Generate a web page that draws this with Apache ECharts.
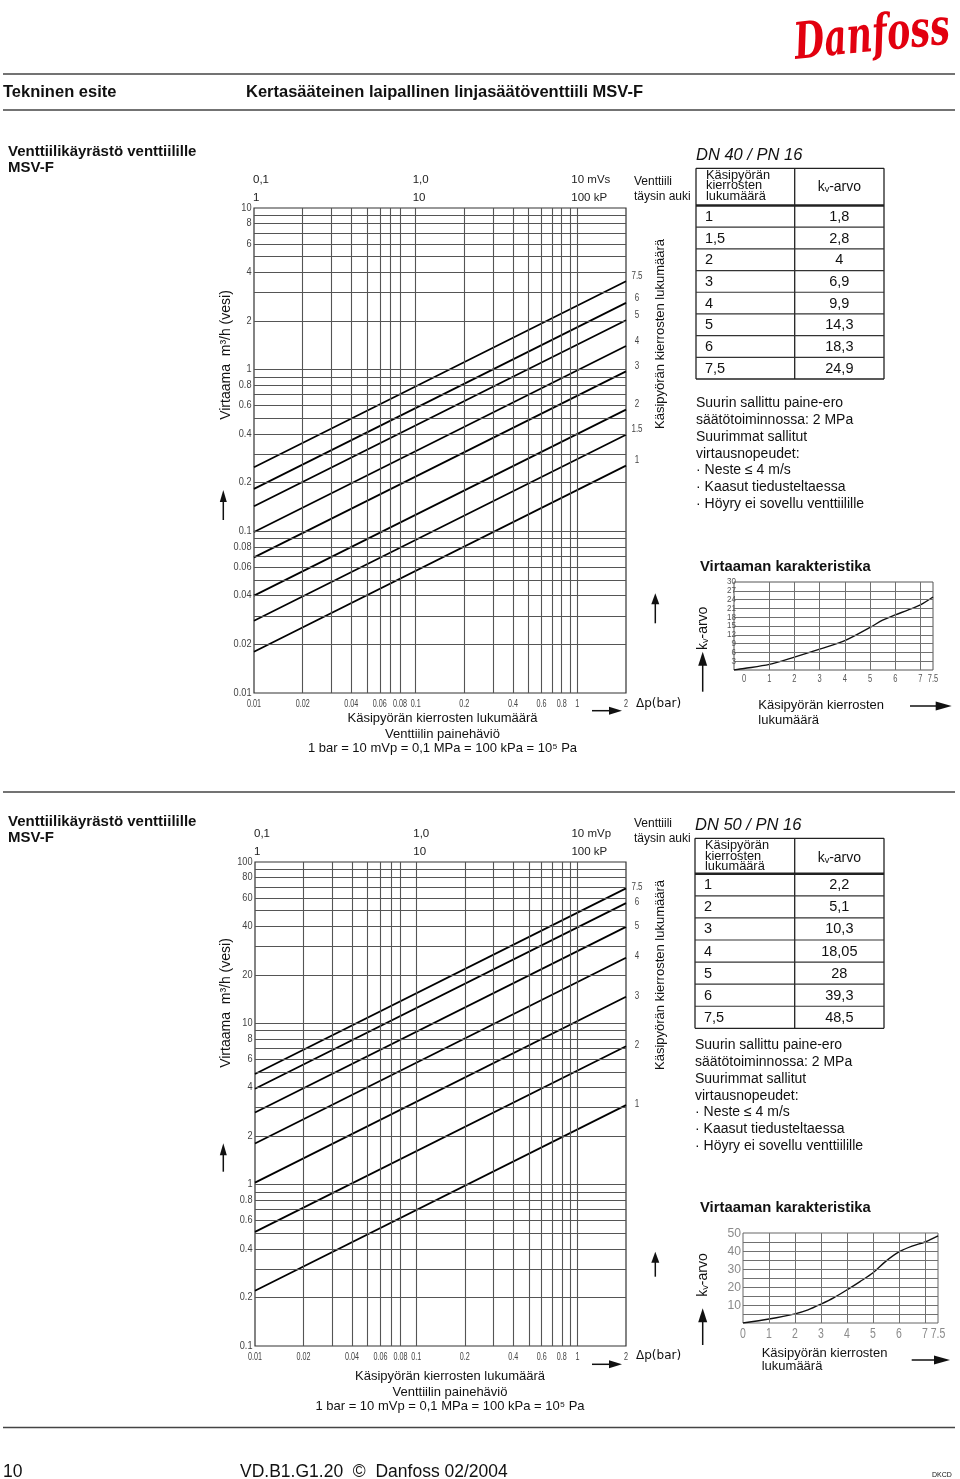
<!DOCTYPE html>
<html lang="fi">
<head>
<meta charset="utf-8">
<title>MSV-F venttiilikäyrästö</title>
<script src="https://cdn.jsdelivr.net/npm/echarts@6.0.0/dist/echarts.min.js"></script>
<style>
html,body{margin:0;padding:0;background:#fff;}
#chart{width:960px;height:1479px;}
</style>
</head>
<body>
<div id="chart"></div>
<script>
// ================= DATA =================
// pressure-drop axis (bar), shared by both main charts
const dpRange = [0.01, 2];
const dpTicks = [0.01, 0.02, 0.04, 0.06, 0.08, 0.1, 0.2, 0.4, 0.6, 0.8, 1, 2];
const dpTickLabels = ['0.01','0.02','0.04','0.06','0.08','0.1','0.2','0.4','0.6','0.8','1','2'];
const dpGridLines = [0.02,0.03,0.04,0.05,0.06,0.07,0.08,0.1,0.2,0.3,0.4,0.5,0.6,0.7,0.8,0.9,1];
const topTicks = [0.01, 0.1, 1];
const topLabelsM40 = ['0,1', '1,0', '10 mVs'];
const topLabelsM50 = ['0,1', '1,0', '10 mVp'];
const topLabelsK = ['1', '10', '100 kP'];

// DN 40 main chart
const flowRange40 = [0.01, 10];
const flowTicks40 = [10,8,6,4,2,1,0.8,0.6,0.4,0.2,0.1,0.08,0.06,0.04,0.02,0.01];
const flowTickLabels40 = ['10','8','6','4','2','1','0.8','0.6','0.4','0.2','0.1','0.08','0.06','0.04','0.02','0.01'];
const flowGridLines40 = [0.02,0.03,0.04,0.05,0.06,0.07,0.08,0.09,0.1,0.2,0.3,0.4,0.5,0.6,0.7,0.8,0.9,1,2,3,4,5,6,7,8,9];
const turnLabels40 = ['1','1.5','2','3','4','5','6','7.5'];
const flowAtDpMin40 = [0.018,0.028,0.040,0.069,0.099,0.143,0.183,0.249];
const flowAtDpMax40 = [0.255,0.396,0.566,0.976,1.40,2.02,2.59,3.52];
// DN 40 table
const tableTurns40 = ['1','1,5','2','3','4','5','6','7,5'];
const tableKv40 = ['1,8','2,8','4','6,9','9,9','14,3','18,3','24,9'];
// DN 40 flow characteristic
const charRangeX40 = [-0.4, 7.5];
const charRangeY40 = [0, 30];
const charTurns40 = [-0.4, 0, 1, 2, 3, 4, 5, 5.5, 6, 6.5, 7, 7.5];
const charKv40 = [0, 0.5, 1.9, 4.4, 7.1, 10, 14.5, 17, 18.8, 20.4, 22.2, 24.9];
const charYTicks40 = [30,27,24,21,18,15,12,9,6,3];
const charYTickLabels40 = ['30','27','24','21','18','15','12','9','6','3'];
const charYGridLines40 = [3,6,9,12,15,18,21,24,27];

// shared characteristic x ticks
const charXTicks = [0,1,2,3,4,5,6,7,7.5];
const charXTickLabels = ['0','1','2','3','4','5','6','7','7.5'];
const charXGridLines = [1,2,3,4,5,6,7];

// DN 50 main chart
const flowRange50 = [0.1, 100];
const flowTicks50 = [100,80,60,40,20,10,8,6,4,2,1,0.8,0.6,0.4,0.2,0.1];
const flowTickLabels50 = ['100','80','60','40','20','10','8','6','4','2','1','0.8','0.6','0.4','0.2','0.1'];
const flowGridLines50 = [0.2,0.3,0.4,0.5,0.6,0.7,0.8,0.9,1,2,3,4,5,6,7,8,9,10,20,30,40,50,60,70,80,90];
const turnLabels50 = ['1','2','3','4','5','6','7.5'];
const flowAtDpMin50 = [0.22,0.51,1.03,1.80,2.80,3.93,4.85];
const flowAtDpMax50 = [3.11,7.21,14.6,25.5,39.6,55.6,68.6];
// DN 50 table
const tableTurns50 = ['1','2','3','4','5','6','7,5'];
const tableKv50 = ['2,2','5,1','10,3','18,05','28','39,3','48,5'];
// DN 50 flow characteristic
const charRangeX50 = [0, 7.5];
const charRangeY50 = [0, 50];
const charTurns50 = [0, 1, 2, 2.5, 3, 3.5, 4, 4.5, 5, 5.5, 6, 6.5, 7, 7.5];
const charKv50 = [0, 2.2, 5.1, 7.3, 10.5, 14.1, 18.4, 23, 27.9, 34.4, 39.5, 42.7, 45, 48.4];
const charYTicks50 = [50,40,30,20,10];
const charYTickLabels50 = ['50','40','30','20','10'];
const charYGridLines50 = [5,10,15,20,25,30,35,40,45];

const notes = ['Suurin sallittu paine-ero','säätötoiminnossa: 2 MPa','Suurimmat sallitut','virtausnopeudet:','· Neste ≤ 4 m/s','· Kaasut tiedusteltaessa','· Höyry ei sovellu venttiilille'];

// ================= CHART =================
const SANS = "'Liberation Sans', Arial, Helvetica, 'DejaVu Sans', sans-serif";
const chart = echarts.init(document.getElementById('chart'), null, {renderer: 'canvas', width: 960, height: 1479});

const hidden = {axisLine: {show: false}, axisTick: {show: false}, axisLabel: {show: false}, splitLine: {show: false}};
const gridBase = {show: true, backgroundColor: 'transparent', containLabel: false, outerBoundsMode: 'none'};
const grids = [
  Object.assign({}, gridBase, {left: 254, top: 208, width: 372, height: 485, borderColor: '#333', borderWidth: 1.2}),
  Object.assign({}, gridBase, {left: 255, top: 862, width: 371, height: 484, borderColor: '#333', borderWidth: 1.2}),
  Object.assign({}, gridBase, {left: 734, top: 582, width: 199, height: 88, borderColor: '#555', borderWidth: 1}),
  Object.assign({}, gridBase, {left: 743, top: 1233, width: 195, height: 90, borderColor: '#666', borderWidth: 1})
];
const xAxes = [
  Object.assign({gridIndex: 0, type: 'log', logBase: 10, min: dpRange[0], max: dpRange[1]}, hidden),
  Object.assign({gridIndex: 1, type: 'log', logBase: 10, min: dpRange[0], max: dpRange[1]}, hidden),
  Object.assign({gridIndex: 2, type: 'value', min: charRangeX40[0], max: charRangeX40[1]}, hidden),
  Object.assign({gridIndex: 3, type: 'value', min: charRangeX50[0], max: charRangeX50[1]}, hidden)
];
const yAxes = [
  Object.assign({gridIndex: 0, type: 'log', logBase: 10, min: flowRange40[0], max: flowRange40[1]}, hidden),
  Object.assign({gridIndex: 1, type: 'log', logBase: 10, min: flowRange50[0], max: flowRange50[1]}, hidden),
  Object.assign({gridIndex: 2, type: 'value', min: charRangeY40[0], max: charRangeY40[1]}, hidden),
  Object.assign({gridIndex: 3, type: 'value', min: charRangeY50[0], max: charRangeY50[1]}, hidden)
];

function gridSeries(idx, xs, ys, color, w) {
  return {
    type: 'line', xAxisIndex: idx, yAxisIndex: idx, data: [], silent: true, z: 1, animation: false,
    markLine: {
      silent: true, animation: false, symbol: ['none', 'none'], label: {show: false},
      emphasis: {disabled: true},
      lineStyle: {color: color, width: w, type: 'solid', opacity: 1},
      data: xs.map(v => ({xAxis: v})).concat(ys.map(v => ({yAxis: v})))
    }
  };
}

const series = [];
series.push(gridSeries(0, dpGridLines, flowGridLines40, '#555', 1.1));
series.push(gridSeries(1, dpGridLines, flowGridLines50, '#555', 1.1));
series.push(gridSeries(2, charXGridLines, charYGridLines40, '#707070', 1));
series.push(gridSeries(3, charXGridLines, charYGridLines50, '#707070', 1));

turnLabels40.forEach((t, i) => series.push({
  type: 'line', name: 'DN40 ' + t, xAxisIndex: 0, yAxisIndex: 0, z: 3, silent: true, animation: false,
  symbol: 'none', showSymbol: false, lineStyle: {color: '#000', width: 1.8},
  data: [[dpRange[0], flowAtDpMin40[i]], [dpRange[1], flowAtDpMax40[i]]]
}));
turnLabels50.forEach((t, i) => series.push({
  type: 'line', name: 'DN50 ' + t, xAxisIndex: 1, yAxisIndex: 1, z: 3, silent: true, animation: false,
  symbol: 'none', showSymbol: false, lineStyle: {color: '#000', width: 1.8},
  data: [[dpRange[0], flowAtDpMin50[i]], [dpRange[1], flowAtDpMax50[i]]]
}));
series.push({
  type: 'line', name: 'kv DN40', xAxisIndex: 2, yAxisIndex: 2, z: 3, silent: true, animation: false,
  symbol: 'none', showSymbol: false, smooth: 0.3, lineStyle: {color: '#111', width: 1.4},
  data: charTurns40.map((x, i) => [x, charKv40[i]])
});
series.push({
  type: 'line', name: 'kv DN50', xAxisIndex: 3, yAxisIndex: 3, z: 3, silent: true, animation: false,
  symbol: 'none', showSymbol: false, smooth: 0.3, lineStyle: {color: '#111', width: 1.4},
  data: charTurns50.map((x, i) => [x, charKv50[i]])
});

chart.setOption({
  backgroundColor: '#fff',
  animation: false,
  grid: grids, xAxis: xAxes, yAxis: yAxes, series: series
});

// ================= TEXT & DECORATION =================
function T(x, y, text, o) {
  o = o || {};
  const align = o.align || 'left';
  return {
    type: 'text', x: x, y: y, rotation: o.rot || 0, scaleX: o.sx || 1, scaleY: o.sy || 1, silent: true, z: 10,
    style: {
      text: text, fill: o.fill || '#111', fontSize: o.size || 13, fontFamily: o.family || SANS,
      fontWeight: o.weight || 'normal', fontStyle: o.style || 'normal',
      textAlign: align, align: align, textVerticalAlign: 'middle', verticalAlign: 'middle'
    }
  };
}
function L(x1, y1, x2, y2, w, c) {
  return {type: 'line', silent: true, z: 10, shape: {x1: x1, y1: y1, x2: x2, y2: y2}, style: {stroke: c || '#111', lineWidth: w || 1}};
}
function arrowUp(x, top, bottom, w, h, lw) {
  return [L(x, top + h - 1, x, bottom, lw || 1.5),
    {type: 'polygon', silent: true, z: 10, shape: {points: [[x, top], [x - w / 2, top + h], [x + w / 2, top + h]]}, style: {fill: '#111'}}];
}
function arrowRight(x1, x2, y, w, h, lw) {
  return [L(x1, y, x2 - w + 1, y, lw || 1.5),
    {type: 'polygon', silent: true, z: 10, shape: {points: [[x2, y], [x2 - w, y - h / 2], [x2 - w, y + h / 2]]}, style: {fill: '#111'}}];
}
const px = (idx, x, y) => chart.convertToPixel({xAxisIndex: idx, yAxisIndex: idx}, [x, y]);

const G = [];
// header
G.push(T(872, 38, 'Danfoss', {size: 46, sx: 0.76, sy: 1.1, family: "'DejaVu Serif', serif", weight: 'bold', style: 'italic', fill: '#E2000F', align: 'center', rot: 0.1}));
G.push(L(3, 74, 955, 74, 1.5, '#444'), L(3, 110, 955, 110, 1.5, '#444'));
G.push(T(3, 92, 'Tekninen esite', {size: 16.5, weight: 'bold'}));
G.push(T(246, 92, 'Kertasääteinen laipallinen linjasäätöventtiili MSV-F', {size: 16.5, weight: 'bold'}));
G.push(L(3, 792, 955, 792, 1.5, '#444'));
// footer
G.push(L(3, 1427.5, 955, 1427.5, 1.5, '#444'));
G.push(T(3, 1472, '10', {size: 17.5}));
G.push(T(240, 1472, 'VD.B1.G1.20  ©  Danfoss 02/2004', {size: 17.5}));
G.push(T(932, 1475, 'DKCD', {size: 7}));

const S = [
  {idx: 0, cidx: 2, title: 'DN 40 / PN 16', topM: topLabelsM40, flowTicks: flowTicks40, flowTickLabels: flowTickLabels40,
   flowRange: flowRange40, turns: turnLabels40, qEnd: flowAtDpMax40, endDy: -5,
   tTurns: tableTurns40, tKv: tableKv40,
   cYTicks: charYTicks40, cYLabels: charYTickLabels40, cRangeX: charRangeX40, cRangeY: charRangeY40,
   titleY: [152, 168], ventY: [182, 197], tableTitleY: 155,
   table: {x0: 696, xm: 794.7, x1: 884, top: 168.3, head: 205.5, bottom: 379}, hdrY: [175, 185.7, 196.5], kvHdrY: 187,
   notesX: 696, notesY0: 403.3,
   yTitleY: 355, upArrow: [490, 520], turnTitleY: 334, upArrow2: [593.3, 623.3],
   bottomX: 442.5, bottomY: [718.3, 734.3, 748.5], rArrowY: 710.7, dpY: 703.5,
   charTitleY: 566.7, kvTitleY: 628.3, kvArrow: [651.7, 691.7], charBottom: [758.3, 705, 720], charArrow: [910, 951.7, 706],
   cxDy: 9.5, cxSize: 10, cxSx: 0.75, cxFill: '#555', cySize: 8.5, cySx: 0.95, cyFill: '#555', cyDx: 2},
  {idx: 1, cidx: 3, title: 'DN 50 / PN 16', topM: topLabelsM50, flowTicks: flowTicks50, flowTickLabels: flowTickLabels50,
   flowRange: flowRange50, turns: turnLabels50, qEnd: flowAtDpMax50, endDy: -1,
   tTurns: tableTurns50, tKv: tableKv50,
   cYTicks: charYTicks50, cYLabels: charYTickLabels50, cRangeX: charRangeX50, cRangeY: charRangeY50,
   titleY: [822, 838], ventY: [824, 839], tableTitleY: 825,
   table: {x0: 695, xm: 794.7, x1: 884, top: 838.3, head: 873.8, bottom: 1028.3}, hdrY: [845, 856.2, 866.7], kvHdrY: 858,
   notesX: 695, notesY0: 1045.3,
   yTitleY: 1003, upArrow: [1143.3, 1171.7], turnTitleY: 975, upArrow2: [1251.7, 1276.7],
   bottomX: 450, bottomY: [1376.7, 1392.7, 1406.3], rArrowY: 1364.3, dpY: 1355.5,
   charTitleY: 1208.3, kvTitleY: 1275, kvArrow: [1308.3, 1345], charBottom: [761.7, 1353.3, 1366.7], charArrow: [911.7, 950, 1360],
   cxDy: 11, cxSize: 15, cxSx: 0.7, cxFill: '#8a8a8a', cySize: 13.5, cySx: 0.9, cyFill: '#8a8a8a', cyDx: -2}
];

S.forEach(s => {
  const i0 = s.idx, ci = s.cidx;
  // section title
  G.push(T(8, s.titleY[0], 'Venttiilikäyrästö venttiilille', {size: 15, weight: 'bold'}));
  G.push(T(8, s.titleY[1], 'MSV-F', {size: 15, weight: 'bold'}));
  // top scales
  const topDx = [-1, -3, -6];
  topTicks.forEach((v, k) => {
    const p = px(i0, v, s.flowRange[1]);
    G.push(T(p[0] + topDx[k], p[1] - 28, s.topM[k], {size: 11.5, fill: '#222'}));
    G.push(T(p[0] + topDx[k], p[1] - 10.5, topLabelsK[k], {size: 11.5, fill: '#222'}));
  });
  // x tick labels
  dpTicks.forEach((v, k) => {
    const p = px(i0, v, s.flowRange[0]);
    G.push(T(p[0], p[1] + 11, dpTickLabels[k], {size: 10, sx: 0.72, align: 'center', fill: '#444'}));
  });
  // y tick labels
  s.flowTicks.forEach((v, k) => {
    const p = px(i0, dpRange[0], v);
    G.push(T(p[0] - 2.5, p[1], s.flowTickLabels[k], {size: 10, sx: 0.92, align: 'right', fill: '#444'}));
  });
  // handwheel-turn labels at line ends
  s.turns.forEach((t, k) => {
    const p = px(i0, dpRange[1], s.qEnd[k]);
    G.push(T(p[0] + 11, p[1] + s.endDy, t, {size: 10, sx: 0.8, align: 'center', fill: '#444'}));
  });
  // axis titles and arrows
  G.push(T(226.5, s.yTitleY, 'Virtaama  m³/h (vesi)', {size: 14, rot: Math.PI / 2, align: 'center'}));
  G.push(...arrowUp(223.3, s.upArrow[0], s.upArrow[1], 7, 12, 1.5));
  G.push(T(660, s.turnTitleY, 'Käsipyörän kierrosten lukumäärä', {size: 13, rot: Math.PI / 2, align: 'center'}));
  G.push(...arrowUp(655.3, s.upArrow2[0], s.upArrow2[1], 8, 11, 1.5));
  G.push(T(634, s.ventY[0], 'Venttiili', {size: 12}));
  G.push(T(634, s.ventY[1], 'täysin auki', {size: 12}));
  G.push(T(s.bottomX, s.bottomY[0], 'Käsipyörän kierrosten lukumäärä', {size: 13, align: 'center'}));
  G.push(T(s.bottomX, s.bottomY[1], 'Venttiilin painehäviö', {size: 13, align: 'center'}));
  G.push(T(s.bottomX, s.bottomY[2], '1 bar = 10 mVp = 0,1 MPa = 100 kPa = 10⁵ Pa', {size: 13, align: 'center'}));
  G.push(...arrowRight(592, 622, s.rArrowY, 13, 8, 1.5));
  G.push(T(636, s.dpY, 'Δp(bar)', {size: 12, family: "'DejaVu Sans', sans-serif"}));

  // table
  const tb = s.table, n = s.tTurns.length, rh = (tb.bottom - tb.head) / n;
  G.push(T(tb.x0, s.tableTitleY, s.title, {size: 16.5, style: 'italic'}));
  G.push(L(tb.x0, tb.top, tb.x1, tb.top, 1.3, '#222'), L(tb.x0, tb.top, tb.x0, tb.bottom, 1.3, '#222'),
         L(tb.x1, tb.top, tb.x1, tb.bottom, 1.3, '#222'), L(tb.xm, tb.top, tb.xm, tb.bottom, 1.3, '#222'),
         L(tb.x0, tb.bottom, tb.x1, tb.bottom, 1.3, '#222'), L(tb.x0, tb.head, tb.x1, tb.head, 2.4, '#222'));
  for (let k = 1; k < n; k++) G.push(L(tb.x0, tb.head + rh * k, tb.x1, tb.head + rh * k, 1.2, '#333'));
  ['Käsipyörän', 'kierrosten', 'lukumäärä'].forEach((h, k) => G.push(T(tb.x0 + 10, s.hdrY[k], h, {size: 12.8})));
  G.push(T((tb.xm + tb.x1) / 2, s.kvHdrY, 'kᵥ-arvo', {size: 14, align: 'center'}));
  s.tTurns.forEach((t, k) => {
    const cy = tb.head + rh * (k + 0.5) + 0.5;
    G.push(T(tb.x0 + 9, cy, t, {size: 14.5}));
    G.push(T((tb.xm + tb.x1) / 2, cy, s.tKv[k], {size: 14.5, align: 'center'}));
  });
  // notes
  notes.forEach((line, k) => G.push(T(s.notesX, s.notesY0 + k * 16.8, line, {size: 14})));

  // characteristic chart
  G.push(T(700, s.charTitleY, 'Virtaaman karakteristika', {size: 14.8, weight: 'bold'}));
  charXTicks.forEach((v, k) => {
    const p = px(ci, v, s.cRangeY[0]);
    G.push(T(p[0], p[1] + s.cxDy, charXTickLabels[k], {size: s.cxSize, sx: s.cxSx, align: 'center', fill: s.cxFill}));
  });
  s.cYTicks.forEach((v, k) => {
    const p = px(ci, s.cRangeX[0], v);
    G.push(T(p[0] + s.cyDx, p[1], s.cYLabels[k], {size: s.cySize, sx: s.cySx, align: 'right', fill: s.cyFill}));
  });
  G.push(T(702.7, s.kvTitleY, 'kᵥ-arvo', {size: 14, rot: Math.PI / 2, align: 'center'}));
  G.push(...arrowUp(702.7, s.kvArrow[0], s.kvArrow[1], 9, 14, 1.5));
  G.push(T(s.charBottom[0], s.charBottom[1], 'Käsipyörän kierrosten', {size: 13}));
  G.push(T(s.charBottom[0], s.charBottom[2], 'lukumäärä', {size: 13}));
  G.push(...arrowRight(s.charArrow[0], s.charArrow[1], s.charArrow[2], 16, 9, 1.5));
});

chart.setOption({graphic: {elements: G}});
</script>
</body>
</html>
